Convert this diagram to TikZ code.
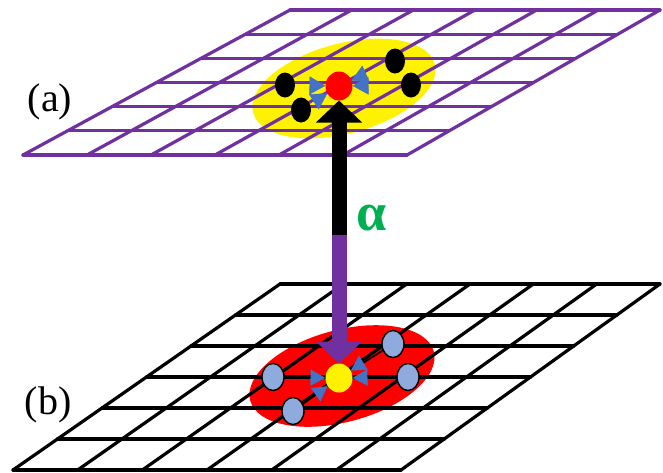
\documentclass[tikz,border=0pt]{standalone}
\usepackage{fontspec}
\setmainfont{Liberation Serif}
\usetikzlibrary{arrows.meta,calc,shapes.geometric}
\definecolor{gridpurple}{RGB}{112,48,160}
\definecolor{dotblue}{RGB}{143,170,220}
\definecolor{tipblue}{RGB}{68,114,196}
\definecolor{alphagreen}{RGB}{0,176,80}
\begin{document}
\begin{tikzpicture}[x=1pt,y=1pt,
  gridline/.style={line width=3.2pt, line join=round, line cap=round},
  blackdot/.style={ellipse, fill=black, minimum width=20pt, minimum height=25pt, inner sep=0pt, outer sep=0pt},
  greydot/.style={ellipse, fill=dotblue, draw=black, line width=1.4pt, minimum width=22pt, minimum height=27pt, inner sep=0pt, outer sep=0pt},
  centerdot/.style={ellipse, minimum width=27pt, minimum height=29pt, inner sep=0pt, outer sep=0pt},
  toparrow/.style={draw=yellow, line width=0.6pt, -{Triangle[length=16pt,width=18pt,color=tipblue]}},
  botarrow/.style={draw=black, line width=1.8pt, -{Triangle[length=15pt,width=16pt,color=tipblue]}},
  bigarrow/.style={line width=15pt, -{Triangle[length=22pt,width=45pt]}},
  lab/.style={font=\fontsize{40}{48}\selectfont, inner sep=0pt}
]
\useasboundingbox (0,0) rectangle (663,-472);
\fill[white] (0,0) rectangle (663,-472);

% ---- top plane (a)
\fill[yellow, rotate around={15:(344,-88.5)}] (344,-88.5) ellipse [x radius=94, y radius=45];
\coordinate (aTL) at (290,-10);
\coordinate (aTR) at (660,-10);
\coordinate (aBL) at (23,-155);
\coordinate (aBR) at (407,-155);
\foreach \i in {0,...,6}{
  \draw[gridline, gridpurple] ($(aTL)!\i/6!(aBL)$) -- ($(aTR)!\i/6!(aBR)$);
  \draw[gridline, gridpurple] ($(aTL)!\i/6!(aTR)$) -- ($(aBL)!\i/6!(aBR)$);
}

% ---- bottom plane (b)
\fill[red, rotate around={15:(342,-376)}] (342,-376) ellipse [x radius=95, y radius=46];
\coordinate (bTL) at (280,-284);
\coordinate (bTR) at (660,-284);
\coordinate (bBL) at (13,-470);
\coordinate (bBR) at (401,-470);
\foreach \i in {0,...,6}{
  \draw[gridline, black] ($(bTL)!\i/6!(bBL)$) -- ($(bTR)!\i/6!(bBR)$);
  \draw[gridline, black] ($(bTL)!\i/6!(bTR)$) -- ($(bBL)!\i/6!(bBR)$);
}

% ---- labels
\node[lab] (la) at (50,-102) {(a)};
\node[lab] (lb) at (48,-405) {(b)};
\node[font=\fontsize{54}{60}\selectfont\bfseries, text=alphagreen, inner sep=0pt] (alpha) at (372,-218) {α};

% ---- dots top
\node[centerdot, fill=red] (ca) at (339,-86) {};
\node[blackdot] (a1) at (285,-85) {};
\node[blackdot] (a2) at (301,-110) {};
\node[blackdot] (a3) at (395,-61) {};
\node[blackdot] (a4) at (411,-85) {};

% ---- dots bottom
\node[centerdot, fill=yellow] (cb) at (339,-378) {};
\node[greydot] (b1) at (273,-377) {};
\node[greydot] (b2) at (293,-411) {};
\node[greydot] (b3) at (393,-344) {};
\node[greydot] (b4) at (408,-377) {};

% ---- big arrow
\coordinate (mid) at (339,-235);
\draw[bigarrow, black] (mid) -- (ca);
\draw[bigarrow, gridpurple] (mid) -- (cb);

% ---- small arrows top
\draw[toparrow, shorten <=11pt] (a1) -- (ca);
\draw[toparrow, shorten <=1pt] (a2) -- (ca);
\draw[toparrow, shorten <=19pt] (a3) -- (ca);
\draw[toparrow, shorten <=31pt] (a4) -- (ca);

% ---- small arrows bottom
\draw[botarrow] (b1) -- (cb);
\draw[botarrow] (b2) -- (cb);
\draw[botarrow] (b3) -- (cb);
\draw[botarrow] (b4) -- (cb);
\end{tikzpicture}
\end{document}
